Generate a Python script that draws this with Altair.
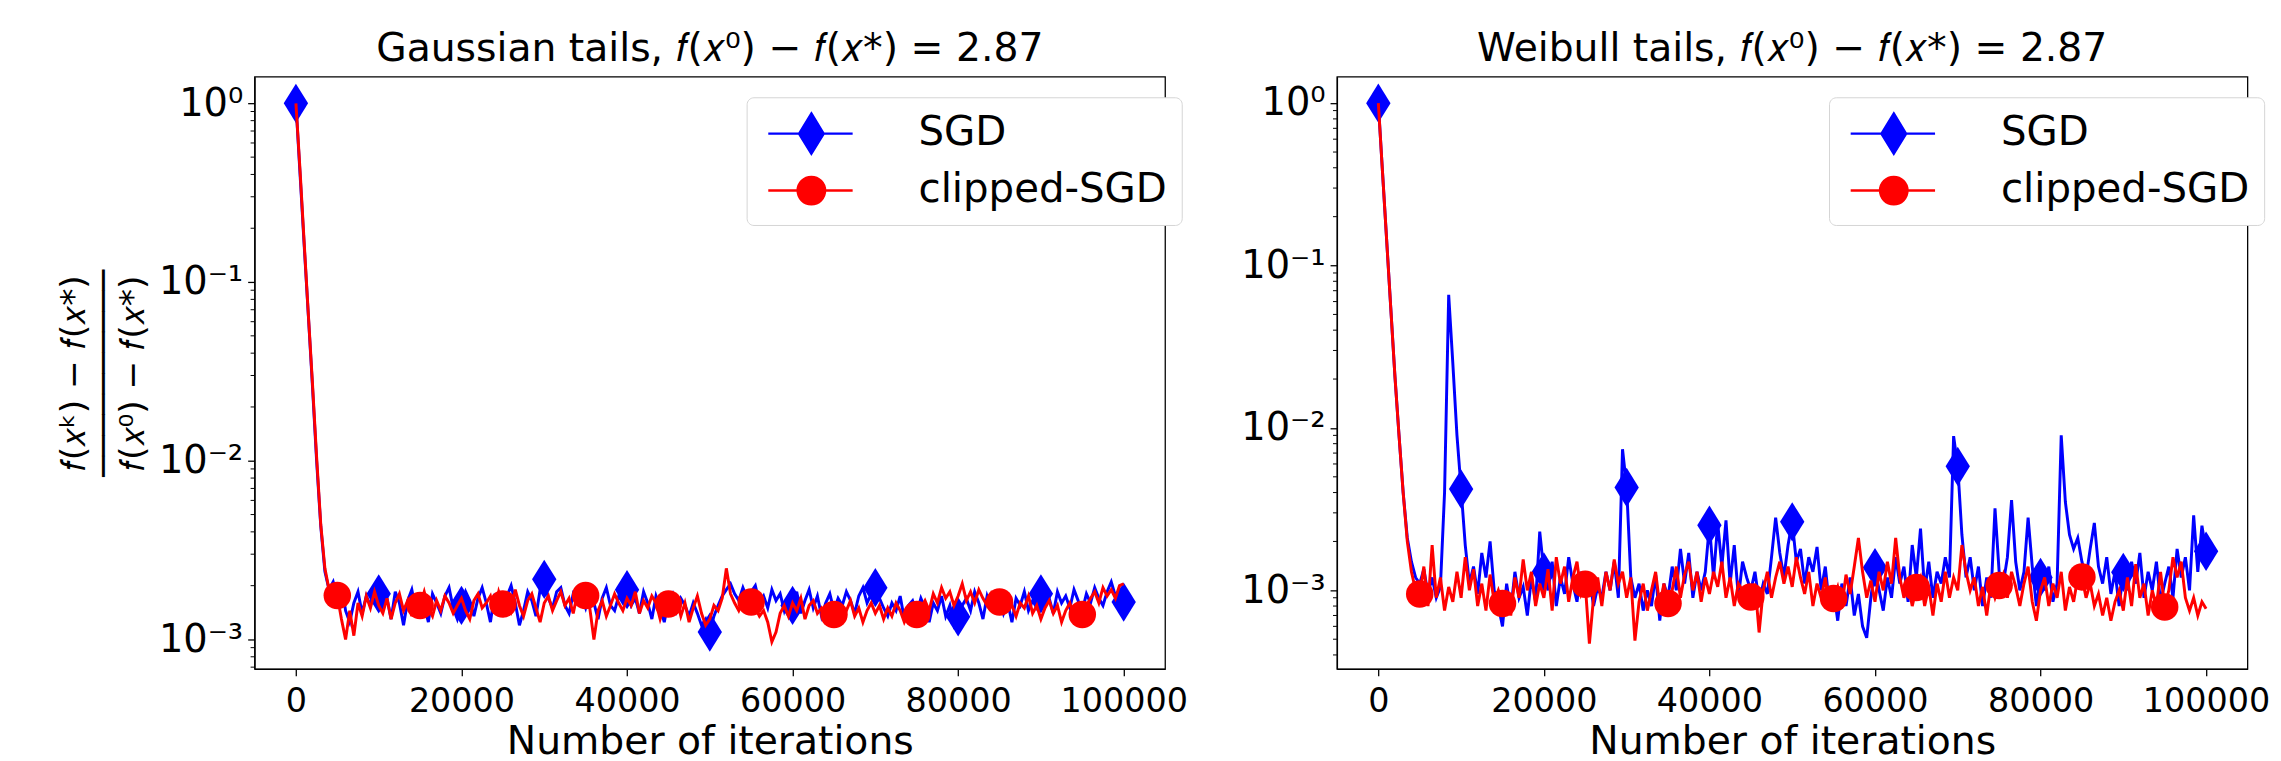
import altair as alt
import pandas as pd

FONT = "DejaVu Sans"
STEP = 500  # iterations between stored samples
METHODS = ["SGD", "clipped-SGD"]
COLORS = ["#0000ff", "#ff0000"]

# relative residual, in units of 1e-3, sampled every 500 iterations (0..100000)
gauss_sgd = [
    1000, 400, 160, 65, 26, 10, 4.3, 2.4, 1.9, 2.1,
    1.70, 2.05, 1.45, 1.25, 1.60, 1.85, 1.40, 1.75, 1.55, 1.95,
    1.80, 1.50, 1.70, 1.30, 1.85, 1.60, 1.20, 1.65, 1.90, 1.45,
    1.70, 1.55, 1.25, 1.80, 1.60, 1.40, 1.75, 1.95, 1.50, 1.30,
    1.55, 1.85, 1.65, 1.35, 1.70, 1.95, 1.60, 1.25, 1.80, 1.55,
    1.40, 1.75, 2.00, 1.60, 1.20, 1.45, 1.85, 1.65, 1.35, 1.90,
    2.17, 1.70, 1.50, 1.85, 1.95, 1.55, 1.40, 1.80, 1.65, 1.75,
    1.50, 1.85, 1.60, 1.30, 1.70, 1.95, 1.55, 1.45, 1.75, 1.60,
    1.90, 1.55, 1.70, 1.40, 1.85, 1.60, 1.30, 1.75, 1.50, 1.25,
    1.65, 1.80, 1.45, 1.70, 1.55, 1.35, 1.60, 1.40, 1.20, 1.30,
    1.10, 1.35, 1.55, 1.75, 1.90, 2.05, 1.80, 1.65, 1.95, 1.70,
    1.85, 2.00, 1.60, 1.75, 1.50, 1.90, 1.65, 1.80, 1.45, 1.70,
    1.55, 1.85, 1.40, 1.65, 1.90, 1.50, 1.75, 1.35, 1.60, 1.80,
    1.45, 1.70, 1.55, 1.85, 1.65, 1.40, 1.75, 1.95, 1.60, 1.80,
    1.95, 1.70, 1.50, 1.35, 1.60, 1.45, 1.75, 1.30, 1.55, 1.65,
    1.40, 1.70, 1.50, 1.25, 1.60, 1.45, 1.75, 1.35, 1.55, 1.20,
    1.34, 1.55, 1.70, 1.45, 1.85, 1.60, 1.30, 1.75, 1.50, 1.65,
    1.80, 1.40, 1.60, 1.25, 1.70, 1.55, 1.85, 1.45, 1.65, 1.50,
    1.80, 1.55, 1.70, 1.40, 1.85, 1.60, 1.75, 1.50, 1.90, 1.65,
    1.45, 1.80, 1.60, 1.95, 1.70, 1.55, 1.85, 2.10, 1.75, 1.90,
    1.62,
]
gauss_clip = [
    1000, 420, 165, 66, 27, 10.5, 4.4, 2.5, 1.9, 1.6,
    1.76, 1.30, 1.00, 1.45, 1.05, 1.60, 1.35, 1.75, 1.50, 1.85,
    1.55, 1.40, 1.70, 1.30, 1.60, 1.80, 1.45, 1.65, 1.35, 1.70,
    1.55, 1.85, 1.50, 1.35, 1.65, 1.45, 1.75, 1.60, 1.40, 1.55,
    1.70, 1.45, 1.30, 1.65, 1.80, 1.50, 1.60, 1.75, 1.40, 1.85,
    1.58, 1.70, 1.45, 1.90, 1.55, 1.35, 1.65, 1.80, 1.50, 1.25,
    1.60, 1.75, 1.45, 1.65, 1.85, 1.55, 1.70, 1.40, 1.80, 1.60,
    1.76, 1.50, 1.00, 1.45, 1.65, 1.35, 1.55, 1.80, 1.60, 1.45,
    1.70, 1.55, 1.85, 1.40, 1.65, 1.50, 1.75, 1.60, 1.30, 1.55,
    1.58, 1.45, 1.70, 1.35, 1.60, 1.25, 1.50, 1.75, 1.40, 1.20,
    1.30, 1.55, 1.45, 1.70, 2.50, 1.80, 1.60, 1.45, 1.65, 1.50,
    1.62, 1.50, 1.35, 1.45, 1.25, 0.97, 1.10, 1.40, 1.55, 1.35,
    1.60, 1.45, 1.70, 1.30, 1.55, 1.65, 1.40, 1.50, 1.35, 1.45,
    1.38, 1.55, 1.30, 1.45, 1.65, 1.35, 1.50, 1.25, 1.45, 1.60,
    1.40, 1.55, 1.30, 1.50, 1.35, 1.60, 1.45, 1.25, 1.40, 1.55,
    1.38, 1.50, 1.65, 1.45, 1.80, 1.60, 1.95, 1.70, 1.85, 1.55,
    1.75, 2.05, 1.65, 1.85, 1.60, 1.90, 1.70, 1.55, 1.80, 1.60,
    1.62, 1.45, 1.70, 1.55, 1.35, 1.60, 1.50, 1.75, 1.40, 1.55,
    1.30, 1.50, 1.65, 1.40, 1.55, 1.25, 1.45, 1.60, 1.35, 1.50,
    1.38, 1.55, 1.70, 1.85, 1.60, 1.95, 1.75, 1.90, 1.70, 2.00,
    2.05,
]
weib_sgd = [
    1000, 380, 145, 55, 21, 9, 4.0, 2.1, 1.5, 1.2,
    1.10, 1.35, 0.95, 1.20, 0.90, 1.05, 4.00, 66.0, 25.0, 9.0,
    4.20, 1.90, 1.10, 1.40, 0.95, 1.70, 1.20, 2.00, 1.00, 0.80,
    0.60, 1.10, 0.75, 1.30, 0.90, 1.05, 0.70, 1.20, 0.85, 2.30,
    1.30, 1.00, 1.50, 0.80, 1.20, 0.95, 1.60, 1.10, 0.85, 1.30,
    1.00, 1.20, 0.80, 1.05, 0.90, 1.30, 1.00, 1.50, 0.90, 7.40,
    4.30, 1.20, 0.90, 1.10, 0.75, 1.00, 0.80, 1.25, 0.65, 1.10,
    0.90, 1.40, 1.00, 1.80, 1.10, 1.70, 0.90, 1.30, 1.00, 1.30,
    2.52, 1.20, 2.60, 1.40, 2.70, 1.10, 1.90, 0.90, 1.50, 1.20,
    1.00, 1.30, 0.85, 1.10, 0.95, 1.60, 2.80, 1.70, 1.20, 1.90,
    2.64, 1.50, 1.80, 1.10, 1.60, 1.30, 1.85, 1.00, 1.40, 0.80,
    1.00, 0.65, 1.10, 0.80, 1.20, 0.70, 0.95, 0.60, 0.51, 0.90,
    1.38, 1.00, 0.75, 1.20, 0.90, 1.60, 1.10, 1.40, 0.85, 1.90,
    1.20, 2.40, 1.00, 1.50, 0.90, 1.30, 1.10, 1.60, 1.20, 8.90,
    5.80, 2.20, 1.20, 1.60, 1.00, 1.40, 0.80, 1.20, 0.90, 3.20,
    1.30, 1.10, 1.60, 3.60, 1.50, 1.00, 1.30, 2.80, 1.40, 0.80,
    1.20, 1.00, 1.40, 0.85, 1.10, 9.00, 3.50, 2.20, 1.80, 2.10,
    1.50, 1.20, 1.80, 2.60, 1.40, 1.10, 1.60, 0.95, 1.30, 0.80,
    1.29, 1.00, 1.50, 1.10, 1.70, 0.90, 1.30, 1.00, 1.50, 0.85,
    1.10, 1.40, 0.90, 1.80, 1.20, 1.60, 1.00, 2.90, 1.30, 2.50,
    1.74,
]
weib_clip = [
    1000, 380, 145, 55, 21, 9, 4.0, 2.0, 1.3, 1.0,
    0.95, 1.40, 0.80, 1.90, 0.90, 1.20, 0.75, 1.05, 0.85, 1.30,
    0.90, 1.60, 1.00, 1.35, 0.80, 1.10, 0.75, 1.25, 0.85, 1.00,
    0.83, 0.95, 0.70, 1.20, 0.90, 1.55, 1.00, 1.30, 0.80, 1.10,
    0.90, 1.35, 0.75, 1.60, 1.10, 1.40, 0.85, 1.20, 1.50, 0.95,
    1.09, 0.47, 0.90, 1.20, 0.80, 1.30, 1.00, 1.55, 1.10, 1.30,
    0.90, 1.20, 0.49, 0.85, 1.10, 0.75, 1.00, 1.30, 0.80, 1.10,
    0.83, 1.00, 1.40, 0.90, 1.25, 1.50, 1.00, 1.30, 0.85, 1.20,
    0.95, 1.30, 1.05, 1.50, 0.90, 1.20, 0.80, 1.10, 1.00, 0.85,
    0.91, 1.10, 0.55, 1.00, 1.30, 0.90, 1.20, 1.50, 1.10, 1.40,
    1.05, 1.60, 1.20, 0.95, 1.30, 0.80, 1.10, 0.90, 1.20, 0.75,
    0.89, 1.05, 0.80, 1.25, 0.95, 1.40, 2.10, 1.30, 0.90, 1.15,
    0.85, 1.30, 1.00, 1.50, 1.10, 2.10, 1.20, 0.90, 1.10, 0.80,
    1.04, 1.20, 0.80, 1.05, 0.70, 1.10, 0.85, 1.30, 0.90, 1.20,
    1.00, 1.90, 1.30, 1.00, 1.20, 0.80, 1.05, 0.70, 1.10, 0.90,
    1.07, 1.25, 0.90, 1.30, 1.05, 0.80, 1.10, 1.40, 0.85, 0.65,
    1.00, 1.20, 0.80, 1.10, 0.90, 1.30, 0.75, 1.05, 0.85, 1.20,
    1.21, 0.90, 1.10, 0.80, 0.95, 0.70, 0.90, 0.65, 0.85, 1.00,
    0.75, 1.20, 0.80, 1.45, 0.90, 1.10, 0.70, 1.00, 0.80, 1.30,
    0.79, 1.00, 1.60, 1.20, 1.50, 0.90, 0.75, 0.90, 0.70, 0.85,
    0.77,
]

x_ticks = [0, 20000, 40000, 60000, 80000, 100000]
y_ticks = [0.001, 0.01, 0.1, 1.0]
minor_ticks = [0.0004, 0.0005, 0.0006, 0.0007, 0.0008, 0.0009,
               0.002, 0.003, 0.004, 0.005, 0.006, 0.007, 0.008, 0.009,
               0.02, 0.03, 0.04, 0.05, 0.06, 0.07, 0.08, 0.09,
               0.2, 0.3, 0.4, 0.5, 0.6, 0.7, 0.8, 0.9]

DIAMOND = "M0,-1L0.62,0L0,1L-0.62,0Z"
LEG_DIAMOND = "M-0.73,0L3.46,0M1.41,-1L2.02,0L1.41,1L0.80,0Z"
LEG_CIRCLE = "M-0.73,0L3.46,0M2.09,0A0.68,0.68,0,1,1,0.73,0A0.68,0.68,0,1,1,2.09,0Z"


def frame(sgd, clip):
    rows = []
    for name, vals in ((METHODS[0], sgd), (METHODS[1], clip)):
        for i, v in enumerate(vals):
            rows.append({"iter": i * STEP, "val": v * 1e-3, "method": name})
    return pd.DataFrame(rows)


def panel(title, sgd, clip, ydom, ytitle):
    df = frame(sgd, clip)
    yscale = alt.Scale(type="log", domain=ydom, nice=False)
    xenc = alt.X("iter:Q", scale=alt.Scale(domain=[-5000, 105000], nice=False, zero=False),
                 axis=alt.Axis(values=x_ticks, format="d", title="Number of iterations",
                               labelFontSize=34, titleFontSize=40, tickSize=7,
                               labelPadding=9, titlePadding=4, labelFlush=False,
                               labelOverlap=False, grid=False))
    yaxis_kw = dict(values=y_ticks, grid=False, tickSize=7, labelFontSize=39, labelPadding=5,
                    labelExpr="datum.value >= 0.5 ? '10⁰' : datum.value >= 0.05 ? '10⁻¹' : "
                              "datum.value >= 0.005 ? '10⁻²' : '10⁻³'")
    if ytitle:
        yaxis_kw.update(title=ytitle, titleFontSize=35, titleLineHeight=30, titlePadding=8)
    else:
        yaxis_kw.update(title=None)
    yenc = alt.Y("val:Q", scale=yscale, axis=alt.Axis(**yaxis_kw))
    base = alt.Chart(df).encode(x=xenc, y=yenc)

    l_sgd = base.transform_filter("datum.method == 'SGD'").mark_line(
        color=COLORS[0], strokeWidth=3, clip=True)
    m_sgd = base.transform_filter("datum.method == 'SGD' && datum.iter % 10000 == 0").mark_point(
        shape=DIAMOND, size=1600, filled=True, color=COLORS[0], opacity=1, strokeWidth=0)
    l_clip = base.transform_filter("datum.method == 'clipped-SGD'").mark_line(
        color=COLORS[1], strokeWidth=3, clip=True)
    m_clip = base.transform_filter(
        "datum.method == 'clipped-SGD' && datum.iter % 10000 == 5000").mark_point(
        shape="circle", size=784, filled=True, color=COLORS[1], opacity=1, strokeWidth=0)

    minor = alt.Chart(pd.DataFrame({"val": minor_ticks})).transform_filter(
        f"datum.val >= {ydom[0]} && datum.val <= {ydom[1]}").mark_rule(
        color="black", strokeWidth=1).encode(
        y=alt.Y("val:Q", scale=yscale), x=alt.value(0), x2=alt.value(-4))

    leg = alt.Legend(title=None, orient="none", legendX=501, legendY=21, padding=15,
                     labelFontSize=41, labelFont=FONT, labelColor="black", labelLimit=500,
                     symbolSize=1681, symbolStrokeWidth=2.5, symbolOpacity=1,
                     rowPadding=10, labelOffset=116,
                     fillColor="white", strokeColor="#d4d4d4", cornerRadius=7)
    # legend carrier: the first sample of each run, pushed far below the axis and clipped away
    legend_layer = alt.Chart(df).transform_filter("datum.iter == 0").transform_calculate(
        hidden="datum.val * 1e-12").mark_point(
        filled=True, size=1681, strokeWidth=2.5, opacity=1, clip=True).encode(
        x=alt.X("iter:Q"),
        y=alt.Y("hidden:Q", scale=yscale),
        shape=alt.Shape("method:N", scale=alt.Scale(domain=METHODS, range=[LEG_DIAMOND, LEG_CIRCLE]),
                        legend=leg),
        fill=alt.Fill("method:N", scale=alt.Scale(domain=METHODS, range=COLORS), legend=leg),
        stroke=alt.Stroke("method:N", scale=alt.Scale(domain=METHODS, range=COLORS), legend=leg),
    )

    return alt.layer(l_sgd, m_sgd, l_clip, m_clip, minor, legend_layer).properties(
        width=927, height=603,
        title=alt.Title(title, fontSize=40, font=FONT, fontWeight="normal", frame="group",
                        anchor="middle", offset=8, color="black"),
    )


ytitle = ["𝑓(𝑥ᵏ) − 𝑓(𝑥*)", "──────────", "𝑓(𝑥⁰) − 𝑓(𝑥*)"]
left = panel("Gaussian tails, 𝑓(𝑥⁰) − 𝑓(𝑥*) = 2.87", gauss_sgd, gauss_clip,
             [0.000684, 1.41], ytitle)
right = panel("Weibull tails, 𝑓(𝑥⁰) − 𝑓(𝑥*) = 2.87", weib_sgd, weib_clip,
              [0.000328, 1.456], None)

chart = alt.hconcat(left, right, spacing=52).resolve_scale(
    shape="independent", fill="independent", stroke="independent",
    x="independent", y="independent"
).resolve_legend(
    shape="independent", fill="independent", stroke="independent"
).properties(
    padding={"left": 49, "top": 14, "right": 2, "bottom": 2}
).configure(font=FONT).configure_view(
    stroke="black", strokeWidth=1.3
).configure_axis(
    domainColor="black", tickColor="black", labelColor="black", titleColor="black",
    labelFont=FONT, titleFont=FONT, titleFontWeight="normal", domainWidth=1.3, tickWidth=1.3
)

chart.save("out.html", embed_options={"renderer": "svg", "actions": False})
